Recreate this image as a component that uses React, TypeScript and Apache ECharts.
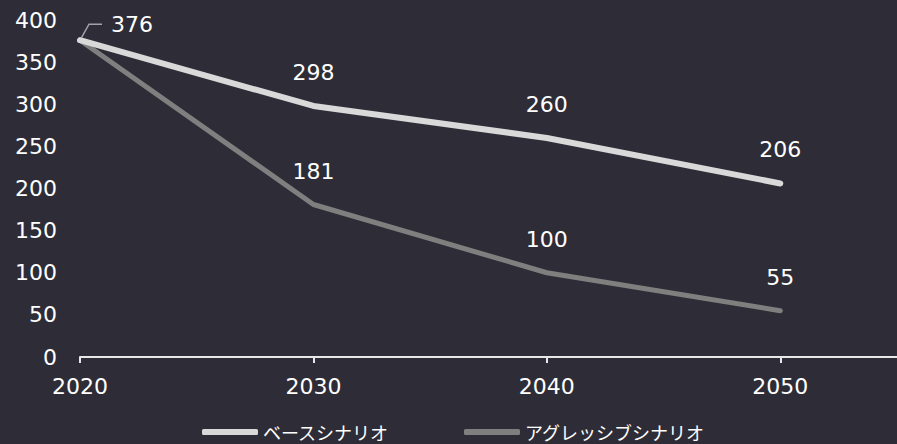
import React, { useEffect, useRef } from "react";
import * as echarts from "echarts";

const years = [2020, 2030, 2040, 2050];
const baseValues = [376, 298, 260, 206];
const aggressiveValues = [376, 181, 100, 55];
const seriesNames = ["ベースシナリオ", "アグレッシブシナリオ"];

const BG = "#2e2d37";
const TEXT = "#ffffff";
const NUM_FONT = "'DejaVu Sans', Verdana, sans-serif";
const JP_FONT = "'Noto Sans CJK JP', sans-serif";

export default function App() {
  const ref = useRef<HTMLDivElement>(null);
  useEffect(() => {
    if (!ref.current) return;
    const chart = echarts.init(ref.current, undefined, { renderer: "svg" });
    const baseData = years.map((y, i) => {
      const item: any = { value: [y, baseValues[i]] };
      if (i === 0) {
        item.label = { padding: [0, 0, 0, 9], backgroundColor: "rgba(0,0,0,0)" };
        item.labelLine = {
          show: true,
          length2: 13,
          smooth: false,
          lineStyle: { color: "#a2a2ae", width: 1.5 },
        };
      }
      return item;
    });
    const aggData = years.map((y, i) => {
      const item: any = { value: [y, aggressiveValues[i]] };
      if (i === 0) item.label = { show: false };
      return item;
    });
    const labelStyle = {
      show: true,
      position: "top",
      distance: 20,
      color: TEXT,
      fontSize: 22,
      fontFamily: NUM_FONT,
    };
    chart.setOption({
      animation: false,
      backgroundColor: BG,
      grid: { left: 80, right: -3, top: 20, bottom: 87 },
      legend: {
        left: 202,
        top: 421,
        padding: 0,
        itemWidth: 56,
        itemHeight: 6,
        itemGap: 75,
        icon: "roundRect",
        textStyle: { color: TEXT, fontSize: 18, fontFamily: JP_FONT, lineHeight: 22 },
        data: seriesNames,
      },
      xAxis: {
        type: "value",
        min: 2020,
        max: 2055,
        interval: 10,
        splitLine: { show: false },
        axisLine: { show: true, lineStyle: { color: "#e8e8e8", width: 2 } },
        axisTick: { show: true, length: 6, lineStyle: { color: "#e8e8e8", width: 2 } },
        axisLabel: {
          color: TEXT,
          fontSize: 22,
          fontFamily: NUM_FONT,
          margin: 18,
          showMaxLabel: false,
          formatter: (v: number) => (v % 10 === 0 ? String(v) : ""),
        },
      },
      yAxis: {
        type: "value",
        min: 0,
        max: 400,
        interval: 50,
        splitLine: { show: false },
        axisLine: { show: false },
        axisTick: { show: false },
        axisLabel: { color: TEXT, fontSize: 22, fontFamily: NUM_FONT, margin: 23 },
      },
      series: [
        {
          name: seriesNames[0],
          type: "line",
          data: baseData,
          symbol: "circle",
          symbolSize: 5,
          showSymbol: true,
          lineStyle: { color: "#d9d9d9", width: 6, cap: "round", join: "round" },
          itemStyle: { color: "#d9d9d9", borderWidth: 0 },
          z: 3,
          label: labelStyle,
          labelLayout: (p: any) => {
            if (p.dataIndex !== 0) return {};
            const cx = p.rect.x + p.rect.width / 2;
            const cy = p.rect.y + p.rect.height / 2;
            return {
              x: cx + 22,
              y: cy - 16,
              align: "left",
              verticalAlign: "middle",
            };
          },
        },
        {
          name: seriesNames[1],
          type: "line",
          data: aggData,
          symbol: "circle",
          symbolSize: 4,
          showSymbol: true,
          lineStyle: { color: "#7f7f7f", width: 5, cap: "round", join: "round" },
          itemStyle: { color: "#7f7f7f", borderWidth: 0 },
          z: 2,
          label: labelStyle,
        },
      ],
    });
    return () => chart.dispose();
  }, []);
  return (
    <div
      ref={ref}
      style={{ position: "fixed", left: 0, top: 0, width: 897, height: 444 }}
    />
  );
}
